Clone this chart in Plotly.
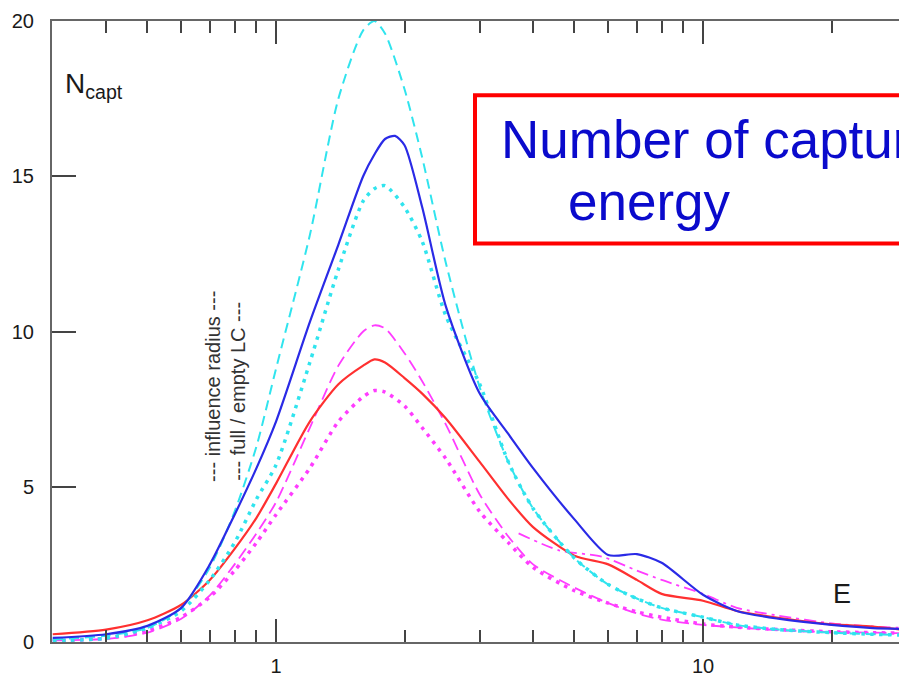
import plotly.graph_objects as go

# ---------------- data ----------------
E = [0.3, 0.4, 0.5, 0.6, 0.7, 0.8, 0.9, 1.0, 1.2, 1.4, 1.6, 1.7, 1.8, 2.0, 2.2, 2.5,
     3.0, 3.5, 4.0, 5.0, 6.0, 7.0, 8.0, 10, 12, 15, 20, 25, 30]

E_blue = [0.3, 0.4, 0.5, 0.6, 0.7, 0.8, 0.9, 1.0, 1.2, 1.4, 1.6, 1.7, 1.8, 1.9, 2.0, 2.2, 2.5,
          3.0, 3.5, 4.0, 5.0, 6.0, 7.0, 8.0, 10, 12, 15, 20, 25, 30]
N_blue = [0.13, 0.25, 0.52, 1.1, 2.5, 4.1, 5.6, 7.1, 10.3, 12.8, 15.0, 15.7, 16.2, 16.3, 16.0, 14.0, 10.8,
          8.0, 6.7, 5.6, 3.95, 2.8, 2.83, 2.55, 1.52, 1.0, 0.75, 0.55, 0.45, 0.42]

N_cyan_dash = [0.08, 0.2, 0.45, 1.1, 2.4, 4.2, 6.3, 8.8, 13.1, 17.5, 19.7, 20.0, 19.6, 17.8, 15.6, 12.2,
               8.2, 5.8, 4.3, 2.7, 1.85, 1.4, 1.1, 0.8, 0.55, 0.4, 0.3, 0.25, 0.22]

N_cyan_dot = [0.05, 0.12, 0.45, 1.0, 2.0, 3.2, 4.6, 5.7, 9.0, 12.0, 14.2, 14.6, 14.7, 14.0, 12.9, 10.5,
              8.3, 5.8, 4.3, 2.7, 1.85, 1.4, 1.1, 0.8, 0.55, 0.4, 0.3, 0.25, 0.22]

N_mag_dash = [0.05, 0.1, 0.3, 0.75, 1.5, 2.5, 3.5, 4.5, 6.9, 8.9, 10.0, 10.2, 10.1, 9.3, 8.4, 7.0,
              4.75, 3.4, 2.5, 1.75, 1.25, 0.92, 0.72, 0.55, 0.47, 0.38, 0.32, 0.3, 0.28]

N_red = [0.25, 0.4, 0.7, 1.2, 2.0, 3.0, 4.0, 5.1, 7.1, 8.3, 8.9, 9.1, 9.0, 8.5, 8.0, 7.2,
         5.8, 4.6, 3.7, 2.78, 2.5, 2.0, 1.55, 1.33, 1.0, 0.78, 0.57, 0.5, 0.38]

N_mag_dot = [0.03, 0.12, 0.35, 0.8, 1.45, 2.3, 3.2, 4.1, 5.6, 7.1, 7.9, 8.1, 8.05, 7.6, 6.9, 5.9,
             4.2, 3.2, 2.4, 1.65, 1.25, 0.97, 0.8, 0.58, 0.48, 0.4, 0.33, 0.3, 0.28]

E_mag_dashdot = [3.7, 4.6, 5.8, 7.0, 8.0, 10, 12, 15, 20, 25, 30]
N_mag_dashdot = [3.5, 2.95, 2.75, 2.3, 2.0, 1.55, 1.1, 0.85, 0.6, 0.5, 0.45]

x_major = [1, 10]
x_major_labels = ["1", "10"]
x_minor = [0.4, 0.5, 0.6, 0.7, 0.8, 0.9, 2, 3, 4, 5, 6, 7, 8, 9, 20, 30]
y_ticks = [0, 5, 10, 15, 20]

# ---------------- figure ----------------
W, H = 899, 677
ML, MR, MT, MB = 52, 0, 21, 28
PW, PH = W - ML - MR, H - MT - MB


def px(x):
    return (x - ML) / PW


def py(y):
    return (H - MB - y) / PH


CYAN = "#30E4EE"
BLUE = "#2A2AE6"
RED = "#FF3030"
MAG = "#FF3CFF"
FONT = "Liberation Sans, Arial, sans-serif"

fig = go.Figure()

series = [
    (E, N_mag_dot, MAG, 3.5, "3.5px,5.5px"),
    (E, N_mag_dash, MAG, 1.8, "12px,6px"),
    (E_mag_dashdot, N_mag_dashdot, MAG, 1.8, "12px,5px,3px,5px"),
    (E, N_red, RED, 2.2, "solid"),
    (E, N_cyan_dot, CYAN, 3.5, "3.5px,5.5px"),
    (E, N_cyan_dash, CYAN, 2, "10px,6px"),
    (E_blue, N_blue, BLUE, 2.2, "solid"),
]
for xs, ys, col, w, dash in series:
    fig.add_trace(go.Scatter(
        x=xs, y=ys, mode="lines",
        line=dict(color=col, width=w, dash=dash, shape="spline", smoothing=0.7),
        showlegend=False, hoverinfo="skip", cliponaxis=False,
    ))

fig.update_layout(
    width=W, height=H,
    margin=dict(l=ML, r=MR, t=MT, b=MB, pad=0),
    paper_bgcolor="white", plot_bgcolor="white",
    font=dict(family=FONT, color="#222"),
    showlegend=False,
)

fig.update_xaxes(
    type="log", range=[(ML - 276) / 427, (W - 276) / 427],
    showgrid=False, zeroline=False,
    showline=True, linecolor="#666", linewidth=2, mirror="ticks",
    ticks="inside", ticklen=23, tickwidth=1.5, tickcolor="#444",
    tickmode="array", tickvals=x_major, ticktext=x_major_labels,
    tickfont=dict(size=20, color="#1a1a1a"), ticklabelstandoff=5,
    minor=dict(ticks="inside", ticklen=12, tickwidth=1.5, tickcolor="#444",
               tickmode="array", tickvals=x_minor, showgrid=False),
)
fig.update_yaxes(
    range=[0, 20], showgrid=False, zeroline=False,
    showline=True, linecolor="#666", linewidth=2,
    ticks="inside", ticklen=24, tickwidth=1.5, tickcolor="#444",
    tickmode="array", tickvals=y_ticks,
    tickfont=dict(size=20, color="#1a1a1a"), ticklabelstandoff=12,
)

# red framed title box
fig.add_shape(type="rect", xref="paper", yref="paper",
              x0=px(475), x1=px(1000), y0=py(246), y1=py(96),
              line=dict(color="#FF0000", width=4), fillcolor="rgba(0,0,0,0)",
              layer="above")

annos = [
    dict(text="Number of captures", x=px(499), y=py(141), size=53, color="#0A0ACC",
         xanchor="left", angle=0),
    dict(text="energy", x=px(566), y=py(204), size=53, color="#0A0ACC",
         xanchor="left", angle=0),
    dict(text="N<sub>capt</sub>", x=px(63), y=py(86), size=28, color="#1a1a1a",
         xanchor="left", angle=0),
    dict(text="E", x=px(831), y=py(600), size=27, color="#1a1a1a",
         xanchor="left", angle=0),
    dict(text="--- influence radius ---", x=px(213), y=py(391), size=20, color="#333",
         xanchor="center", angle=-90),
    dict(text="--- full / empty LC ---", x=px(238), y=py(396), size=20, color="#333",
         xanchor="center", angle=-90),
]
for a in annos:
    fig.add_annotation(text=a["text"], xref="paper", yref="paper", x=a["x"], y=a["y"],
                       xanchor=a["xanchor"], yanchor="middle", showarrow=False,
                       textangle=a["angle"],
                       font=dict(size=a["size"], color=a["color"], family=FONT))

fig.write_html("out.html")
